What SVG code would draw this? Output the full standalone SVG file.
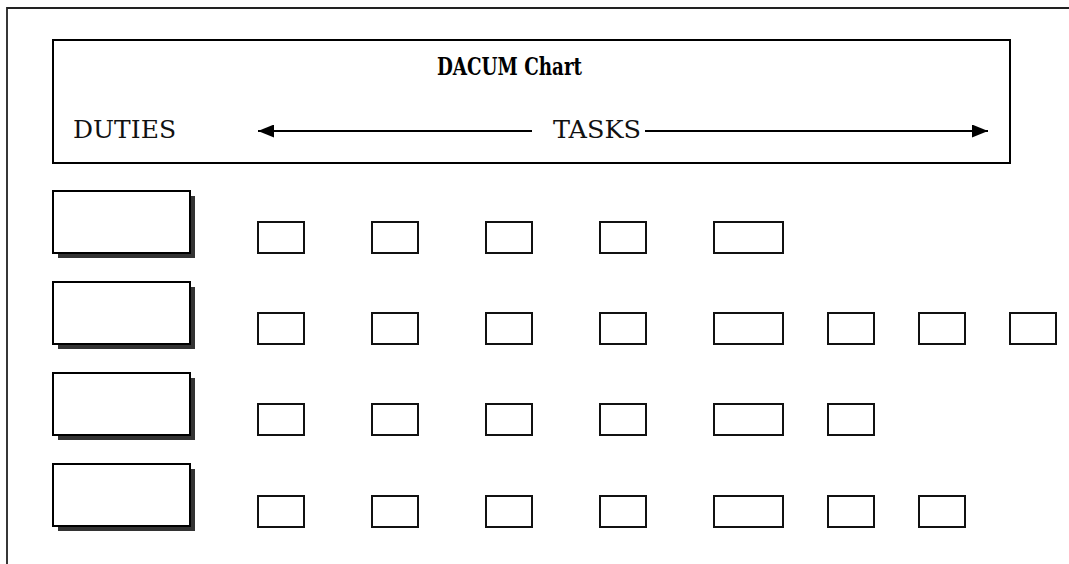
<svg xmlns="http://www.w3.org/2000/svg" width="1069" height="564" viewBox="0 0 1069 564">
<defs>
<style>
.frame{fill:none;stroke:#222;stroke-width:1.8}
.hdr{fill:#fff;stroke:#000;stroke-width:2}
.duty{fill:#fff;stroke:#000;stroke-width:2}
.shadow{fill:#333}
.task{fill:#fff;stroke:#111;stroke-width:2}
.txt{font-family:"DejaVu Serif","Liberation Serif",serif;font-size:24px;fill:#111}
.title{font-family:"DejaVu Serif","Liberation Serif",serif;font-size:24px;font-weight:bold;fill:#000}
.arrow{stroke:#000;stroke-width:2;fill:none}
</style>
<marker id="ah" viewBox="0 0 16 13" refX="16" refY="6.5" markerWidth="16" markerHeight="13" markerUnits="userSpaceOnUse" orient="auto-start-reverse">
<path d="M0,0 L16,6.5 L0,13 Z" fill="#000"/>
</marker>
</defs>
<rect x="0" y="0" width="1069" height="564" fill="#fff"/>
<g id="frame">
<path class="frame" d="M7,564 V8 H1069"/>
</g>
<g id="header">
<rect class="hdr" x="53" y="40" width="957" height="123"/>
<text class="title" x="437" y="75" textLength="145" lengthAdjust="spacingAndGlyphs">DACUM Chart</text>
<text class="txt" x="73" y="138" textLength="103" lengthAdjust="spacingAndGlyphs">DUTIES</text>
<text class="txt" x="553" y="138" textLength="88" lengthAdjust="spacingAndGlyphs">TASKS</text>
</g>
<g id="connectors">
<line class="arrow" x1="532" y1="131" x2="258" y2="131" marker-end="url(#ah)"/>
<line class="arrow" x1="645" y1="131" x2="988" y2="131" marker-end="url(#ah)"/>
</g>
<g id="duty1"><rect class="shadow" x="58" y="196" width="137" height="62"/><rect class="duty" x="53" y="191" width="137" height="62"/></g>
<g id="duty2"><rect class="shadow" x="58" y="287" width="137" height="62"/><rect class="duty" x="53" y="282" width="137" height="62"/></g>
<g id="duty3"><rect class="shadow" x="58" y="378" width="137" height="62"/><rect class="duty" x="53" y="373" width="137" height="62"/></g>
<g id="duty4"><rect class="shadow" x="58" y="469" width="137" height="62"/><rect class="duty" x="53" y="464" width="137" height="62"/></g>
<g id="row1">
<rect class="task" x="258" y="222" width="46" height="31"/>
<rect class="task" x="372" y="222" width="46" height="31"/>
<rect class="task" x="486" y="222" width="46" height="31"/>
<rect class="task" x="600" y="222" width="46" height="31"/>
<rect class="task" x="714" y="222" width="69" height="31"/>
</g>
<g id="row2">
<rect class="task" x="258" y="313" width="46" height="31"/>
<rect class="task" x="372" y="313" width="46" height="31"/>
<rect class="task" x="486" y="313" width="46" height="31"/>
<rect class="task" x="600" y="313" width="46" height="31"/>
<rect class="task" x="714" y="313" width="69" height="31"/>
<rect class="task" x="828" y="313" width="46" height="31"/>
<rect class="task" x="919" y="313" width="46" height="31"/>
<rect class="task" x="1010" y="313" width="46" height="31"/>
</g>
<g id="row3">
<rect class="task" x="258" y="404" width="46" height="31"/>
<rect class="task" x="372" y="404" width="46" height="31"/>
<rect class="task" x="486" y="404" width="46" height="31"/>
<rect class="task" x="600" y="404" width="46" height="31"/>
<rect class="task" x="714" y="404" width="69" height="31"/>
<rect class="task" x="828" y="404" width="46" height="31"/>
</g>
<g id="row4">
<rect class="task" x="258" y="496" width="46" height="31"/>
<rect class="task" x="372" y="496" width="46" height="31"/>
<rect class="task" x="486" y="496" width="46" height="31"/>
<rect class="task" x="600" y="496" width="46" height="31"/>
<rect class="task" x="714" y="496" width="69" height="31"/>
<rect class="task" x="828" y="496" width="46" height="31"/>
<rect class="task" x="919" y="496" width="46" height="31"/>
</g>
</svg>
